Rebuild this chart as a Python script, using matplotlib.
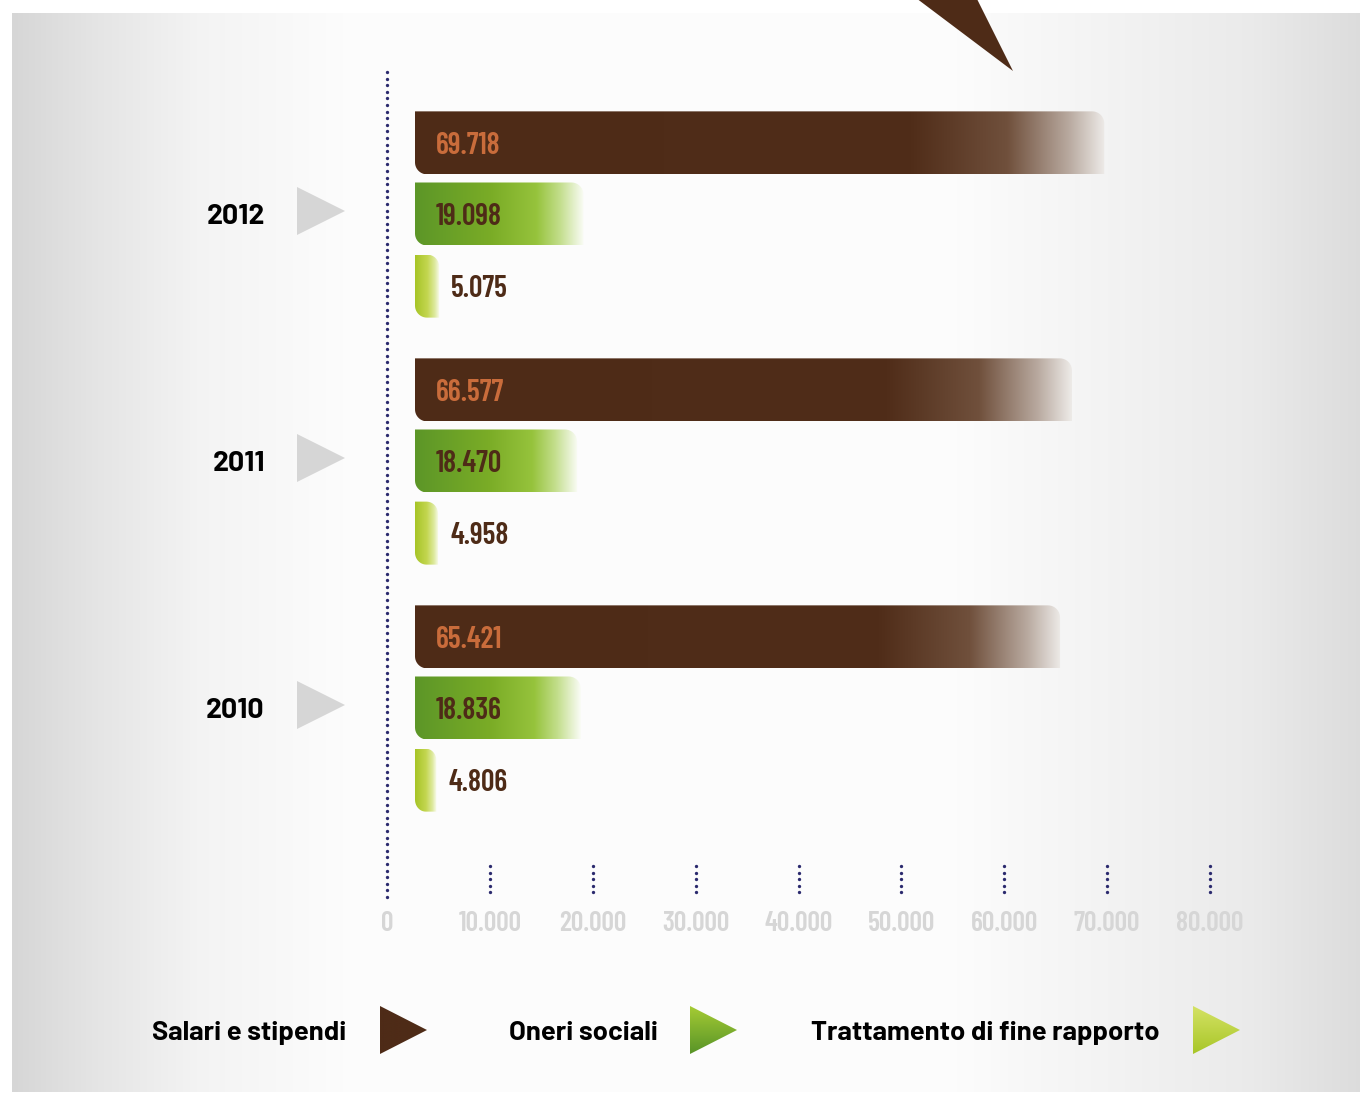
import numpy as np
import matplotlib
matplotlib.use("Agg")
import matplotlib.pyplot as plt
from matplotlib.patches import Polygon
from matplotlib.transforms import blended_transform_factory

# ---------------- data ----------------
years = ["2012", "2011", "2010"]
salari = [69718, 66577, 65421]
oneri = [19098, 18470, 18836]
tfr = [5075, 4958, 4806]
series_names = ["Salari e stipendi", "Oneri sociali", "Trattamento di fine rapporto"]
xticks = [0, 10000, 20000, 30000, 40000, 50000, 60000, 70000, 80000]
xtick_labels = ["0", "10.000", "20.000", "30.000", "40.000", "50.000", "60.000", "70.000", "80.000"]

def fmt(v):
    return f"{v:,}".replace(",", ".")

# ---------------- style ----------------
W, H = 1361, 1093
NUM_FONT = ["Barlow Condensed", "Roboto Condensed", "Saira ExtraCondensed", "DejaVu Sans"]
TXT_FONT = ["Barlow", "Roboto", "DejaVu Sans"]
BROWN = "#4e2b17"
ORANGE = "#c96c3b"
NAVY = "#2b2a6e"

fig = plt.figure(figsize=(W / 100, H / 100), dpi=100)
fig.patch.set_facecolor("white")

# background (pixel coordinates)
bg = fig.add_axes([0, 0, 1, 1])
bg.set_xlim(0, W)
bg.set_ylim(H, 0)
bg.axis("off")

xs = np.linspace(12, 1360, 700)
gx = [12, 100, 200, 350, 950, 1100, 1250, 1360]
gv = [0.84, 0.90, 0.955, 0.99, 0.99, 0.955, 0.92, 0.865]
g = np.interp(xs, gx, gv)
bg_img = np.repeat(np.stack([g, g, g], axis=-1)[None, :, :], 2, axis=0)
bg.imshow(bg_img, extent=(12, 1360, 1092, 13), aspect="auto",
          interpolation="bilinear", zorder=0)
bg.add_patch(Polygon([(912, -5), (975, -5), (1013, 71)], closed=True,
                     facecolor=BROWN, edgecolor="none", zorder=1))
bg.set_xlim(0, W)
bg.set_ylim(H, 0)

# ---------------- data axes ----------------
PX0, PX1 = 387, 1210        # pixel x of 0 and 80000
PYT, PYB = 60, 900          # pixel y top/bottom of axes
ROW0, ROWSTEP = 214, 247    # pixel centre of first group, spacing
ax = fig.add_axes([PX0 / W, 1 - PYB / H, (PX1 - PX0) / W, (PYB - PYT) / H])
ax.patch.set_alpha(0)
for s in ax.spines.values():
    s.set_visible(False)
ytop = (PYT - ROW0) / ROWSTEP
ybot = (PYB - ROW0) / ROWSTEP
XMAX = 80000

def py(p):
    return (p - ROW0) / ROWSTEP

dx_per_px = XMAX / (PX1 - PX0)
dy_per_px = 1.0 / ROWSTEP

ypos = np.arange(len(years))
offsets = [-0.288, 0.0, 0.292]
BAR_H = 63 / ROWSTEP
INSET = 28 * dx_per_px

ramps = [
    [(0.0, (78, 43, 23)), (0.72, (80, 45, 25)), (0.86, (112, 80, 60)), (0.95, (185, 170, 160)), (1.0, (236, 233, 230))],
    [(0.0, (92, 150, 40)), (0.45, (122, 172, 38)), (0.72, (150, 195, 60)), (0.86, (195, 222, 140)), (1.0, (250, 252, 246))],
    [(0.0, (166, 196, 38)), (0.5, (195, 214, 80)), (0.8, (222, 234, 160)), (1.0, (252, 253, 246))],
]

def leaf(x0, x1, yt, yb, r_px=12):
    rx = min(r_px * dx_per_px, (x1 - x0) / 2)
    ry = r_px * dy_per_px
    pts = [(x0, yt)]
    cx, cy = x1 - rx, yt + ry
    for a in np.linspace(np.pi / 2, 0, 12):
        pts.append((cx + rx * np.cos(a), cy - ry * np.sin(a)))
    pts.append((x1, yb))
    cx, cy = x0 + rx, yb - ry
    for a in np.linspace(1.5 * np.pi, np.pi, 12):
        pts.append((cx + rx * np.cos(a), cy - ry * np.sin(a)))
    return pts

NUM_SIZE = 21.5
all_series = [salari, oneri, tfr]
for si, (vals, off) in enumerate(zip(all_series, offsets)):
    bars = ax.barh(ypos + off, vals, height=BAR_H, color="none", edgecolor="none")
    stops = ramps[si]
    t = np.linspace(0, 1, 300)
    cols = np.stack([np.interp(t, [s[0] for s in stops], [s[1][k] for s in stops]) for k in range(3)], axis=-1) / 255
    img = np.repeat(cols[None, :, :], 2, axis=0)
    for rect, v in zip(bars, vals):
        x0 = rect.get_x() + INSET
        x1 = rect.get_x() + rect.get_width()
        yt = rect.get_y()
        yb = rect.get_y() + rect.get_height()
        clip = Polygon(leaf(x0, x1, yt, yb), closed=True, transform=ax.transData,
                       facecolor="none", edgecolor="none")
        ax.add_patch(clip)
        im = ax.imshow(img, extent=(x0, x1, yb, yt), aspect="auto", interpolation="bilinear", zorder=2)
        im.set_clip_path(clip)
        yc = yt + rect.get_height() / 2
        if si == 2:
            xt, col = x1 + 12 * dx_per_px, BROWN
        else:
            xt, col = x0 + 21 * dx_per_px, (ORANGE if si == 0 else BROWN)
        ax.text(xt, yc, fmt(v), color=col, fontsize=NUM_SIZE, family=NUM_FONT,
                weight="semibold", va="center_baseline", ha="left", zorder=3)

ax.set_xlim(0, XMAX)
ax.set_ylim(ybot, ytop)

# dotted axis line and dotted ticks (drawn as round dots)
DOT = 2.4
ax_dots = np.arange(72, 898, 6.6)
ax.plot(np.zeros(len(ax_dots)), py(ax_dots), ls="none", marker="o", ms=DOT, mew=0,
        color=NAVY, zorder=1, clip_on=False)
tick_dots = np.arange(866, 893, 6.5)
for xt in xticks[1:]:
    ax.plot([xt] * len(tick_dots), py(tick_dots), ls="none", marker="o", ms=DOT, mew=0,
            color=NAVY, zorder=1, clip_on=False)

ax.set_xticks(xticks, xtick_labels)
ax.tick_params(axis="x", length=0, pad=8, labelcolor="#d6d6d6", labelsize=20)
for lab in ax.get_xticklabels():
    lab.set_family(NUM_FONT)
    lab.set_weight("semibold")

ax.set_yticks(ypos, years)
ax.tick_params(axis="y", length=0, pad=88, labelcolor="black", labelsize=20.5)
for lab in ax.get_yticklabels():
    lab.set_family(TXT_FONT)
    lab.set_weight("bold")

# grey triangles next to the years
tr = blended_transform_factory(bg.transData, ax.transData)
ax.plot([321] * len(years), ypos - 3 / ROWSTEP, marker=">", ls="none", ms=34.5, mew=0,
        color="#d6d6d6", transform=tr, clip_on=False)

# ---------------- legend ----------------
leg_items = [
    (series_names[0], 346, 380, [(78, 43, 23), (78, 43, 23)]),
    (series_names[1], 658, 690, [(165, 203, 52), (88, 148, 40)]),
    (series_names[2], 1160, 1193, [(212, 226, 100), (168, 198, 40)]),
]
for name, tx, trx, (ctop, cbot) in leg_items:
    bg.text(tx, 1033, name, ha="right", va="center", fontsize=19.7, family=TXT_FONT,
            weight="bold", color="black")
    tri = Polygon([(trx, 1006), (trx, 1054), (trx + 47, 1030)], closed=True,
                  facecolor="none", edgecolor="none")
    bg.add_patch(tri)
    t = np.linspace(0, 1, 60)[:, None]
    grad = (np.array(ctop)[None, :] * (1 - t) + np.array(cbot)[None, :] * t) / 255
    grad = np.repeat(grad[:, None, :], 2, axis=1)
    im = bg.imshow(grad, extent=(trx, trx + 47, 1054, 1006), aspect="auto", interpolation="bilinear")
    im.set_clip_path(tri)

bg.set_xlim(0, W)
bg.set_ylim(H, 0)

fig.savefig("out.png", dpi=100)
